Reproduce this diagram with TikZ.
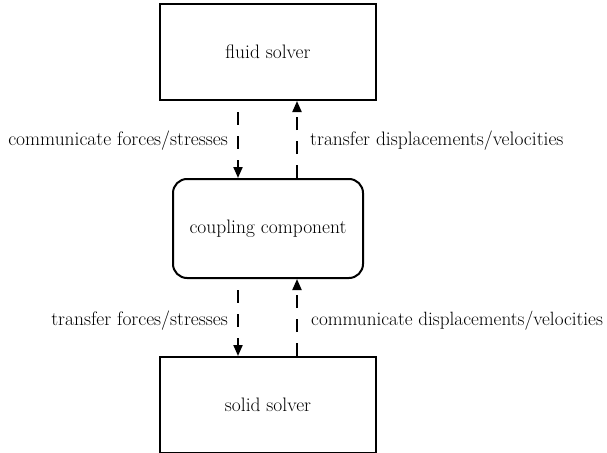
\documentclass[tikz,border=0pt]{standalone}
\usetikzlibrary{arrows.meta}
\begin{document}
\begin{tikzpicture}[x=1pt,y=-1pt,
  textsize/.style={font=\fontsize{19.5}{23}\selectfont},
  solverbox/.style={draw,line width=2pt,minimum width=216pt,minimum height=96pt,inner sep=0pt,textsize},
  couplerbox/.style={draw,line width=2pt,rounded corners=14pt,minimum width=190pt,minimum height=99pt,inner sep=0pt,textsize},
  flow/.style={line width=2pt,dash pattern=on 13pt off 11pt,-{Triangle[length=11pt,width=9pt]}},
  flowlabel/.style={inner sep=0pt,textsize}]
\useasboundingbox (0,0) rectangle (607,452);
% the three components
\node[solverbox]  (fluid)    at (268,52)    {fluid solver};
\node[couplerbox] (coupling) at (268,228.5) {coupling component};
\node[solverbox]  (solid)    at (268,405)   {solid solver};
% data exchange between the components
\draw[flow,dash phase=13pt] ([xshift=-30pt]fluid.south) -- ([xshift=-30pt]coupling.north);
\draw[flow] ([xshift=29pt]coupling.north) -- ([xshift=29pt]fluid.south);
\draw[flow,dash phase=13pt] ([xshift=-30pt]coupling.south) -- ([xshift=-30pt]solid.north);
\draw[flow] ([xshift=29pt]solid.north) -- ([xshift=29pt]coupling.south);
% labels of the exchanges
\node[flowlabel,anchor=east] (l1) at (228,141) {communicate forces/stresses};
\node[flowlabel,anchor=west] (l2) at (310,141) {transfer displacements/velocities};
\node[flowlabel,anchor=east] (l3) at (228,321) {transfer forces/stresses};
\node[flowlabel,anchor=west,font=\fontsize{19.2}{23}\selectfont] (l4) at (311,321) {communicate displacements/velocities};
\end{tikzpicture}
\end{document}
